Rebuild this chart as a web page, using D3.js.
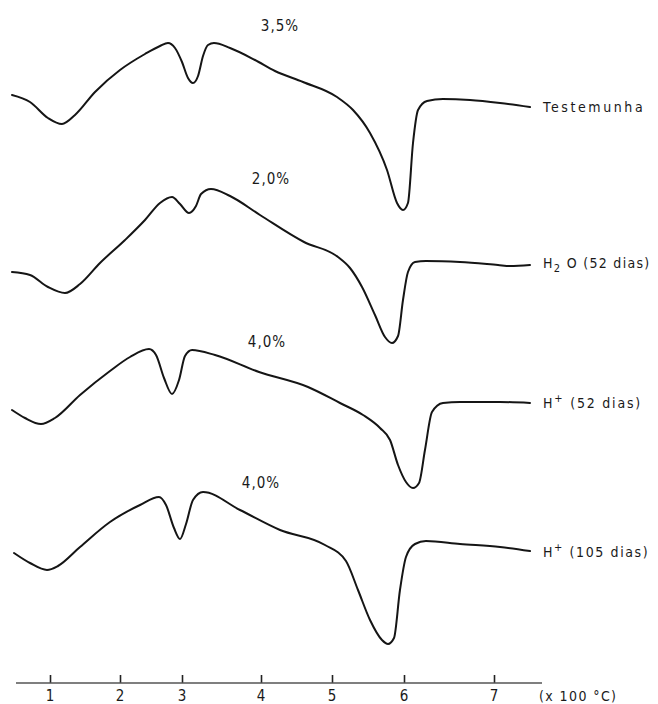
<!DOCTYPE html>
<html>
<head>
<meta charset="utf-8">
<script src="https://cdn.jsdelivr.net/npm/d3@7"></script>
<style>
  html, body { margin: 0; padding: 0; background: #fff; }
  svg { display: block; }
  text { font-family: "DejaVu Sans Condensed", "DejaVu Sans", sans-serif; fill: #1a1a1a; }
</style>
</head>
<body>
<svg id="chart" width="658" height="704"></svg>
<script>
// ---- DATA (temperature in x100 °C, signal in arbitrary ΔT units, upward = exothermic) ----
const tickValues = [1, 2, 3, 4, 5, 6, 7];
const axisUnitLabel = "(x 100 °C)";

const seriesNames = ["Testemunha", "H2O (52 dias)", "H+ (52 dias)", "H+ (105 dias)"];
const percentLabels = ["3,5%", "2,0%", "4,0%", "4,0%"];

const testemunha = [
  [0.457, 0.1], [0.714, -0.6], [0.971, -2.2], [1.171, -2.8], [1.357, -1.9], [1.643, 0.4],
  [2.0, 2.6], [2.403, 4.2], [2.645, 5.0], [2.774, 5.3], [2.887, 4.8], [3.0, 3.4],
  [3.076, 1.8], [3.139, 1.3], [3.203, 2.0], [3.266, 4.0], [3.329, 5.1], [3.405, 5.3],
  [3.608, 4.8], [3.924, 3.6], [4.197, 2.5], [4.592, 1.4], [5.069, -0.1], [5.292, -1.4],
  [5.528, -3.7], [5.764, -7.4], [5.903, -10.7], [5.986, -11.4], [6.044, -10.7], [6.1, -4.7],
  [6.156, -1.4], [6.256, -0.5], [6.433, -0.3], [6.733, -0.4], [7.067, -0.7], [7.4, -1.1]
];

const h2o52 = [
  [0.457, -0.2], [0.714, -0.5], [0.971, -1.7], [1.214, -2.3], [1.429, -1.4], [1.714, 0.7],
  [2.081, 3.0], [2.403, 5.0], [2.645, 6.7], [2.839, 7.3], [2.968, 6.6], [3.089, 5.7],
  [3.177, 6.4], [3.241, 7.6], [3.367, 8.1], [3.608, 7.4], [3.987, 5.5], [4.606, 2.8],
  [5.083, 1.3], [5.25, 0.2], [5.417, -1.7], [5.597, -4.5], [5.736, -6.7], [5.833, -7.3],
  [5.917, -6.6], [5.986, -3.0], [6.044, -0.2], [6.122, 0.8], [6.244, 0.9], [6.622, 0.8],
  [7.044, 0.5], [7.178, 0.4], [7.4, 0.5]
];

const hplus52 = [
  [0.457, 0.0], [0.643, -0.8], [0.871, -1.4], [1.071, -0.8], [1.429, 1.5], [1.857, 3.9],
  [2.161, 5.3], [2.468, 6.1], [2.581, 5.5], [2.71, 3.2], [2.839, 1.6], [2.952, 3.0],
  [3.038, 5.4], [3.127, 6.0], [3.418, 5.5], [3.975, 3.8], [4.662, 2.3], [5.111, 0.7],
  [5.431, -0.5], [5.667, -1.8], [5.806, -3.0], [5.917, -5.5], [6.022, -7.2], [6.1, -7.8],
  [6.167, -7.3], [6.233, -4.0], [6.311, -0.2], [6.433, 0.7], [6.622, 0.8], [7.067, 0.8],
  [7.4, 0.7]
];

const hplus105 = [
  [0.486, -0.1], [0.714, -1.1], [0.957, -1.8], [1.114, -1.4], [1.429, 0.5], [1.857, 3.0],
  [2.323, 4.7], [2.629, 5.5], [2.742, 4.7], [2.871, 2.4], [2.968, 1.3], [3.051, 2.8],
  [3.139, 5.2], [3.266, 6.0], [3.734, 4.2], [4.268, 2.2], [4.901, 0.7], [5.194, -0.9],
  [5.361, -3.8], [5.528, -6.8], [5.694, -8.8], [5.778, -9.2], [5.861, -8.6], [5.944, -3.8],
  [6.022, -0.5], [6.122, 0.8], [6.244, 1.1], [6.622, 0.8], [7.067, 0.5], [7.4, 0.1]
];

const allSeries = [testemunha, h2o52, hplus52, hplus105];

// ---- LAYOUT ----
const svg = d3.select("#chart");
// tick positions on the original recorder chart are not evenly spaced
const tickPx = [50, 120, 182, 261, 332, 404, 494];
const x = d3.scaleLinear().domain(tickValues).range(tickPx);
const curveBase = [96, 270, 410, 552];          // baseline of each stacked trace
const y = d3.scaleLinear().domain([0, 1]).range([0, -10]);

const line = d3.line()
  .x(d => x(d[0]))
  .y(d => y(d[1]))
  .curve(d3.curveMonotoneX);

const traces = svg.append("g");
allSeries.forEach((s, i) => {
  traces.append("path")
    .datum(s)
    .attr("transform", `translate(0,${curveBase[i]})`)
    .attr("d", line)
    .attr("fill", "none")
    .attr("stroke", "#151515")
    .attr("stroke-width", 2)
    .attr("stroke-linejoin", "round")
    .attr("stroke-linecap", "round");
});

// percentage labels
const pctPos = [[280, 31], [271, 184], [267, 347], [261, 488]];
percentLabels.forEach((t, i) => {
  svg.append("text")
    .attr("x", pctPos[i][0]).attr("y", pctPos[i][1])
    .attr("text-anchor", "middle")
    .attr("font-size", 15)
    .attr("letter-spacing", 1)
    .text(t);
});

// series labels at right
const labelY = [112, 268, 408, 557];
const labelSpacing = [2.6, 1.3, 1.8, 1.6];
const lblX = 543;
function seriesLabel(i) {
  const t = svg.append("text").attr("x", lblX).attr("y", labelY[i])
    .attr("font-size", 14).attr("letter-spacing", labelSpacing[i]);
  const name = seriesNames[i];
  if (name.startsWith("H2O")) {
    t.append("tspan").text("H");
    t.append("tspan").attr("dy", 4).attr("font-size", 11).text("2");
    t.append("tspan").attr("dy", -4).text(" O" + name.slice(3));
  } else if (name.startsWith("H+")) {
    t.append("tspan").text("H");
    t.append("tspan").attr("dy", -6).attr("font-size", 11).text("+");
    t.append("tspan").attr("dy", 6).text(name.slice(2));
  } else {
    t.text(name);
  }
}
seriesNames.forEach((n, i) => seriesLabel(i));

// ---- AXIS ----
const axisY = 683;
const axis = d3.axisTop(x)
  .tickValues(tickValues)
  .tickSize(8)
  .tickFormat("");
const ag = svg.append("g").attr("transform", `translate(0,${axisY})`).call(axis);
ag.select(".domain").remove();
ag.selectAll(".tick line").attr("stroke", "#222").attr("stroke-width", 1.6);
ag.append("line")
  .attr("x1", 16).attr("x2", 542)
  .attr("stroke", "#555").attr("stroke-width", 1.4);

svg.append("g").selectAll("text")
  .data(tickValues)
  .join("text")
  .attr("x", d => x(d))
  .attr("y", 701)
  .attr("text-anchor", "middle")
  .attr("font-size", 15)
  .text(d => d);

svg.append("text")
  .attr("x", 539).attr("y", 701)
  .attr("font-size", 14)
  .attr("letter-spacing", 1.4)
  .text(axisUnitLabel);
</script>
</body>
</html>
